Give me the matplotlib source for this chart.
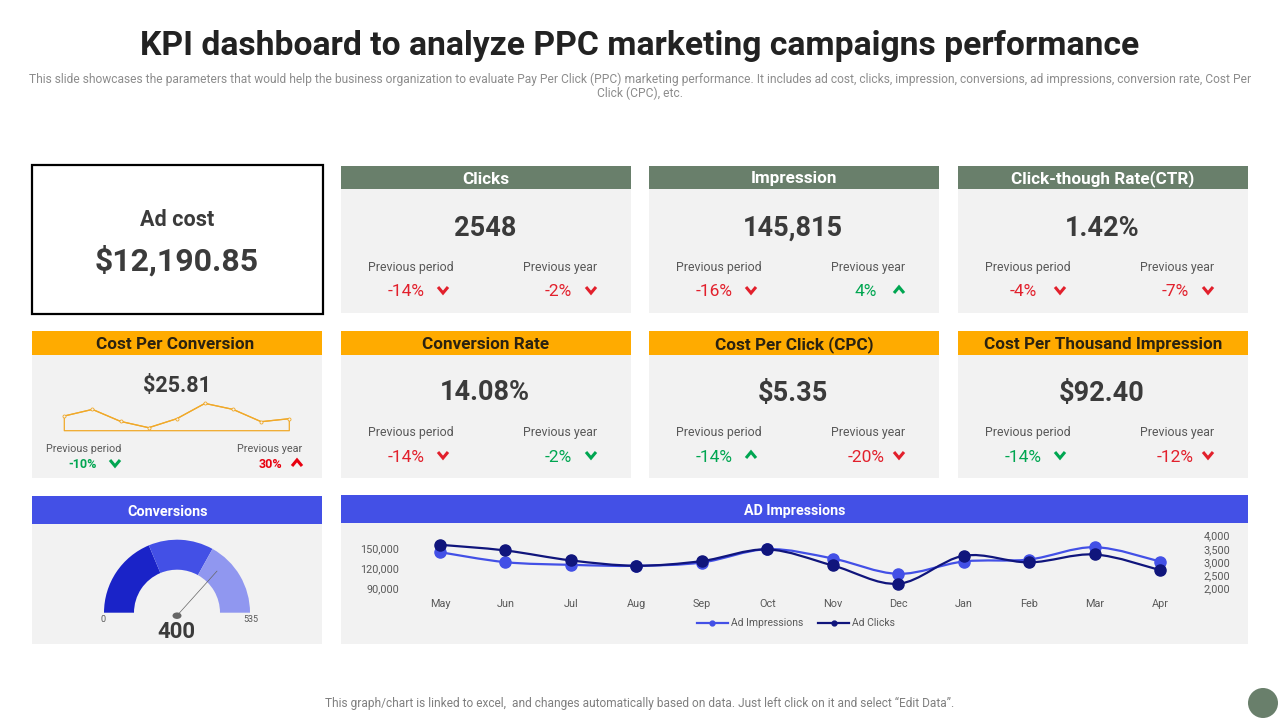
import numpy as np
import matplotlib
matplotlib.use("Agg")
import matplotlib.pyplot as plt
from matplotlib.patches import Rectangle, Circle, Ellipse, PathPatch
from matplotlib.path import Path
from matplotlib.lines import Line2D

plt.rcParams['font.family'] = ['Roboto', 'DejaVu Sans']

GREEN = '#697f6b'
ORANGE = '#ffab00'
BLUE = '#4350e6'
NAVY = '#10157c'
BODY = '#f2f2f2'
DARK = '#3b3b3b'
GREY = '#595959'
RED = '#e2202c'
UP_GREEN = '#00a651'

card_titles = ['Clicks', 'Impression', 'Click-though Rate(CTR)',
               'Conversion Rate', 'Cost Per Click (CPC)', 'Cost Per Thousand Impression']
card_values = ['2548', '145,815', '1.42%', '14.08%', '$5.35', '$92.40']
card_period = ['-14%', '-16%', '-4%', '-14%', '-14%', '-14%']
card_year = ['-2%', '4%', '-7%', '-2%', '-20%', '-12%']
period_up = [False, False, False, False, True, False]
year_up = [False, True, False, False, False, False]
period_good = [False, False, False, False, True, True]
year_good = [False, True, False, True, False, False]

spark_values = [14.7, 21.3, 9.3, 3.0, 12.0, 27.3, 21.3, 9.0, 12.0]

gauge_stops = [0, 200, 354, 535]
gauge_colors = ['#1a23c8', BLUE, '#9097f0']
gauge_value = 400

months = ['May', 'Jun', 'Jul', 'Aug', 'Sep', 'Oct', 'Nov', 'Dec', 'Jan', 'Feb', 'Mar', 'Apr']
ad_impressions = [144500, 129500, 125500, 124000, 129000, 149000,
                  135000, 112000, 130500, 133500, 152000, 130500]
ad_clicks = [3650, 3435, 3060, 2860, 3035, 3475, 2870, 2180, 3235, 2985, 3285, 2695]
left_ticks = [90000, 120000, 150000]
right_ticks = [2000, 2500, 3000, 3500, 4000]

W, H = 1280, 720
fig = plt.figure(figsize=(12.8, 7.2), dpi=100)
bg = fig.add_axes([0, 0, 1, 1])
bg.set_xlim(0, W)
bg.set_ylim(H, 0)
bg.axis('off')


def px_axes(x0, y0, x1, y1):
    a = fig.add_axes([x0 / W, 1 - y1 / H, (x1 - x0) / W, (y1 - y0) / H])
    a.patch.set_alpha(0)
    return a


def txt(x, y, s, size, color=DARK, weight='normal', ha='center'):
    bg.text(x, y + 1.5, s, fontsize=size, color=color, fontweight=weight, ha=ha, va='center')


def panel(x0, x1, y0, y1, y2, color, title, size=12.3, tx=None):
    bg.add_patch(Rectangle((x0, y1), x1 - x0, y2 - y1, fc=BODY, ec='none'))
    bg.add_patch(Rectangle((x0, y0), x1 - x0, y1 - y0, fc=color, ec='none'))
    c = 'white' if color != ORANGE else '#2b2210'
    txt(tx if tx else (x0 + x1) / 2, (y0 + y1) / 2, title, size, color=c, weight='bold')


def chevron(x, y, up, color, w=5, h=3):
    s = -1 if up else 1
    bg.plot([x - w, x, x + w], [y - s * h, y + s * h, y - s * h], color=color, lw=2.2,
            solid_capstyle='butt', solid_joinstyle='miter')


def smooth(xs, ys):
    # catmull-rom to bezier, same look as the office smoothed line
    xs = np.asarray(xs, float)
    ys = np.asarray(ys, float)
    verts = [(xs[0], ys[0])]
    codes = [Path.MOVETO]
    n = len(xs)
    for i in range(n - 1):
        p0 = max(i - 1, 0)
        p3 = min(i + 2, n - 1)
        verts.append((xs[i] + (xs[i + 1] - xs[p0]) / 6, ys[i] + (ys[i + 1] - ys[p0]) / 6))
        verts.append((xs[i + 1] - (xs[p3] - xs[i]) / 6, ys[i + 1] - (ys[p3] - ys[i]) / 6))
        verts.append((xs[i + 1], ys[i + 1]))
        codes += [Path.CURVE4] * 3
    return Path(verts, codes)


# headline
txt(640, 44.5, 'KPI dashboard to analyze PPC marketing campaigns performance', 24.2, color='#222222',
    weight='bold')
txt(640, 78, 'This slide showcases the parameters that would help the business organization to evaluate Pay Per Click (PPC) marketing performance. It includes ad cost, clicks, impression, conversions, ad impressions, conversion rate, Cost Per',
    8.65, color='#8c8c8c')
txt(640, 92, 'Click (CPC), etc.', 8.65, color='#8c8c8c')
txt(640, 702, 'This graph/chart is linked to excel,  and changes automatically based on data. Just left click on it and select \u201cEdit Data\u201d.',
    8.6, color='#7f7f7f')
bg.add_patch(Circle((1263, 703), 15, fc=GREEN, ec='none'))

# ad cost box
bg.add_patch(Rectangle((32, 165), 291, 149, fc='white', ec='black', lw=1.6))
txt(177, 218, 'Ad cost', 15.5, weight='bold')
txt(177, 259, '$12,190.85', 23, weight='bold')

# kpi cards
col_x = [341, 649, 958]
for i in range(6):
    x0 = col_x[i % 3]
    row = i // 3
    top = 166 if row == 0 else 331
    head = 189 if row == 0 else 355
    bot = 313 if row == 0 else 478
    panel(x0, x0 + 290, top, head, bot, GREEN if row == 0 else ORANGE, card_titles[i])
    dy = 0 if row == 0 else 165
    txt(x0 + 144, 226.5 + dy, card_values[i], 19.5, weight='bold')
    txt(x0 + 69.5, 266 + dy, 'Previous period', 8.9, color=GREY)
    txt(x0 + 219.5, 266 + dy, 'Previous year', 8.9, color=GREY)
    c1 = UP_GREEN if period_good[i] else RED
    c2 = UP_GREEN if year_good[i] else RED
    txt(x0 + 65, 290.5 + dy, card_period[i], 12.5, color=c1)
    txt(x0 + 217, 290.5 + dy, card_year[i], 12.5, color=c2)
    chevron(x0 + 102, 290 + dy, period_up[i], c1)
    chevron(x0 + 250, 290 + dy, year_up[i], c2)

# cost per conversion
panel(32, 322, 331, 355, 478, ORANGE, 'Cost Per Conversion', tx=175.5)
txt(177, 384, '$25.81', 15.5, weight='bold')
ax = px_axes(64.3, 400.7, 289.3, 430.7)
spark_x = np.arange(len(spark_values))
ax.fill_between(spark_x, spark_values, 0, facecolor='none', edgecolor='#f0a92a', lw=0.9, clip_on=False)
ax.plot(spark_x, spark_values, color='#f0a92a', lw=0.9, marker='o', ms=2.2, mfc=BODY, mew=0.6, clip_on=False)
ax.set_xlim(0, len(spark_values) - 1)
ax.set_ylim(0, 30)
ax.axis('off')
txt(83.5, 448, 'Previous period', 7.8, color=GREY)
txt(269.5, 448, 'Previous year', 7.8, color=GREY)
txt(83, 463, '-10%', 9, color=UP_GREEN, weight='bold')
txt(270, 463, '30%', 9, color='#e8000f', weight='bold')
chevron(115, 463, False, UP_GREEN)
chevron(297, 463, True, '#e8000f')

# conversions gauge
panel(32, 322, 496, 524, 644, BLUE, 'Conversions', 10.4, tx=168)
ax = px_axes(104, 539.7, 250, 612.7)
sizes = list(np.diff(gauge_stops)) + [gauge_stops[-1]]
wedges, _ = ax.pie(sizes, startangle=180, counterclock=False, radius=1,
                   colors=gauge_colors + ['none'], wedgeprops=dict(width=30 / 73))
ax.set_xlim(-1, 1)
ax.set_ylim(0, 1)
ang = np.pi * (1 - gauge_value / gauge_stops[-1])
ax.plot([0, 0.78 * np.cos(ang)], [-0.04, 0.8 * np.sin(ang)], color='#666666', lw=0.5, clip_on=False)
bg.add_patch(Ellipse((177, 615.7), 9, 6.5, fc='#666666', ec='none', zorder=5))
txt(103, 618, '0', 6.5, color=GREY)
txt(251, 618, '535', 6.5, color=GREY)
txt(176, 630.5, str(gauge_value), 16, weight='bold')

# ad impressions
panel(341, 1248, 495, 523, 644, BLUE, 'AD Impressions', 10.3)
STEP = 720 / 11
ax = px_axes(405, 535.5, 1198, 588.5)
ax2 = ax.twinx()
ax2.patch.set_alpha(0)
mx = np.arange(len(months))
ax.add_patch(PathPatch(smooth(mx, ad_impressions), fc='none', ec=BLUE, lw=1.6, clip_on=False))
ax.plot(mx, ad_impressions, ls='none', marker='o', ms=8, color=BLUE, clip_on=False)
ax2.add_patch(PathPatch(smooth(mx, ad_clicks), fc='none', ec=NAVY, lw=1.6, clip_on=False))
ax2.plot(mx, ad_clicks, ls='none', marker='o', ms=8, color=NAVY, clip_on=False)
ax.set_xlim(-35 / STEP, 758 / STEP)
ax.set_ylim(90000, 169500)
ax2.set_ylim(2000, 4000)
ax.set_xticks(mx, months)
ax.set_yticks(left_ticks, [f'{v:,}' for v in left_ticks])
ax2.set_yticks(right_ticks, [f'{v:,}' for v in right_ticks])
ax.tick_params(axis='x', length=0, pad=7.5, labelsize=7.8, labelcolor=GREY)
ax.tick_params(axis='y', length=0, pad=4, labelsize=7.8, labelcolor=GREY)
ax2.tick_params(axis='y', length=0, pad=4, labelsize=7.8, labelcolor=GREY)
for a in (ax, ax2):
    for s in a.spines.values():
        s.set_visible(False)
handles = [Line2D([], [], color=BLUE, lw=1.6, marker='o', ms=3.5, label='Ad Impressions'),
           Line2D([], [], color=NAVY, lw=1.6, marker='o', ms=3.5, label='Ad Clicks')]
fig.legend(handles=handles, loc='center', bbox_to_anchor=(796 / W, 1 - 623.5 / H), ncol=2, frameon=False,
           fontsize=7.5, labelcolor=GREY, handlelength=3.0, handletextpad=0.3, columnspacing=1.4)

fig.savefig('out.png', dpi=100)
